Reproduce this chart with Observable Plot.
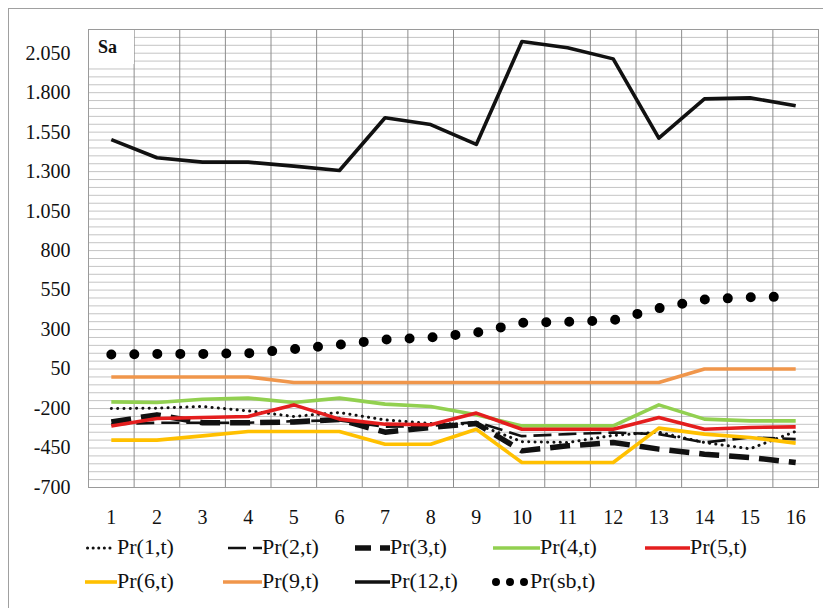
<!DOCTYPE html>
<html>
<head>
<meta charset="utf-8">
<script src="https://cdn.jsdelivr.net/npm/d3@7"></script>
<script src="https://cdn.jsdelivr.net/npm/@observablehq/plot@0.6"></script>
<style>
  html, body { margin: 0; padding: 0; background: #fff; overflow: hidden; }
  body { width: 823px; height: 608px; position: relative; font-family: "Liberation Serif", "Times New Roman", serif; }
  #border { position: absolute; left: 8px; top: 8px; width: 900px; height: 700px; border: 1px solid #a0a0a0; box-sizing: border-box; }
  #chart { position: absolute; left: 0; top: 0; }
  #label { position: absolute; left: 89px; top: 30px; width: 45px; height: 34px; background: #fff;
           font: bold 18px "Liberation Serif", serif; line-height: 34px; padding-left: 9px; box-sizing: border-box; color: #111; }
  .item { position: absolute; display: flex; align-items: center; font-size: 22px; color: #111; height: 26px; }
  .item svg { display: block; }
</style>
</head>
<body>
<div id="border"></div>
<div id="chart"></div>
<div id="label">Sa</div>
<div id="legend"></div>
<script>
// ---- data ----
const cats = [1, 2, 3, 4, 5, 6, 7, 8, 9, 10, 11, 12, 13, 14, 15, 16];
const yTicks = [-700, -450, -200, 50, 300, 550, 800, 1050, 1300, 1550, 1800, 2050];
const pr1  = [-200, -198, -187, -215, -250, -225, -272, -295, -300, -410, -415, -370, -350, -415, -455, -345];
const pr2  = [-300, -290, -290, -290, -280, -275, -315, -310, -285, -375, -362, -352, -362, -415, -383, -394];
const pr3  = [-285, -240, -290, -290, -285, -270, -350, -320, -295, -468, -436, -415, -457, -489, -510, -542];
const pr4  = [-158, -162, -141, -134, -162, -134, -172, -187, -240, -310, -310, -310, -177, -267, -278, -278];
const pr5  = [-310, -263, -257, -250, -177, -267, -299, -303, -229, -331, -331, -331, -257, -331, -320, -316];
const pr6  = [-400, -400, -373, -345, -345, -345, -426, -426, -331, -542, -542, -542, -324, -362, -383, -419];
const pr9  = [0, 0, 0, 0, -35, -35, -35, -35, -35, -35, -35, -35, -35, 50, 50, 50];
const pr12 = [1503, 1388, 1360, 1360, 1335, 1307, 1641, 1598, 1472, 2124, 2084, 2014, 1512, 1761, 1767, 1717];
const prsb = [142, 146, 146, 150, 176, 205, 237, 250, 280, 343, 349, 359, 435, 490, 505, 509];
const names = ["Pr(1,t)", "Pr(2,t)", "Pr(3,t)", "Pr(4,t)", "Pr(5,t)", "Pr(6,t)", "Pr(9,t)", "Pr(12,t)", "Pr(sb,t)"];

// ---- styles ----
const styles = [
  {stroke: "#111", width: 3, dash: "0.1 6.2", cap: "round", legendDash: "0.1 5.5"},
  {stroke: "#111", width: 2.6, dash: "18 7", cap: "butt", legendDash: "18 7"},
  {stroke: "#111", width: 5.5, dash: "20 10", cap: "butt", legendDash: "16 9"},
  {stroke: "#92D050", width: 3.6, dash: null, cap: "butt"},
  {stroke: "#E41E1E", width: 3.6, dash: null, cap: "butt"},
  {stroke: "#FFC000", width: 3.6, dash: null, cap: "butt"},
  {stroke: "#F0964B", width: 3.6, dash: null, cap: "butt"},
  {stroke: "#111", width: 3.6, dash: null, cap: "butt"},
  {stroke: "#000", width: 10, dash: "0 23", cap: "round", legendDash: "0 14", legendWidth: 8}
];
const seriesValues = [pr1, pr2, pr3, pr4, pr5, pr6, pr9, pr12, prsb];

const fmt = d => {
  const a = Math.abs(d);
  const s = a >= 1000 ? Math.floor(a / 1000) + "." + String(a % 1000).padStart(3, "0") : String(a);
  return (d < 0 ? "-" : "") + s;
};

const lineMarks = seriesValues.map((vals, k) => {
  const st = styles[k];
  const data = vals.map((v, i) => ({x: cats[i], y: v}));
  return Plot.line(data, {
    x: "x", y: "y", stroke: st.stroke, strokeWidth: st.width,
    strokeDasharray: st.dash, strokeLinecap: st.cap, strokeLinejoin: "round"
  });
});

const chart = Plot.plot({
  width: 823,
  height: 530,
  marginTop: 29,
  marginBottom: 43,
  marginLeft: 88,
  marginRight: 5,
  x: {domain: [0.5, 16.5]},
  y: {domain: [-700, 2200]},
  style: {fontFamily: "Liberation Serif, serif", fontSize: "20px", background: "transparent", color: "#111"},
  marks: [
    Plot.ruleY(d3.range(-700, 2201, 50), {stroke: "#c4c4c4", strokeWidth: 1}),
    Plot.ruleX(d3.range(0.5, 17, 1), {stroke: "#8c8c8c", strokeWidth: 1}),
    Plot.frame({stroke: "#9a9a9a"}),
    ...lineMarks,
    Plot.axisX(cats, {tickSize: 0, tickPadding: 22, fontSize: 20, label: null}),
    Plot.axisY(yTicks, {tickSize: 0, tickPadding: 18, tickFormat: fmt, fontSize: 20, label: null})
  ]
});
document.getElementById("chart").appendChild(chart);

// ---- legend ----
const legendPos = [
  {left: 85, top: 534, w: 32}, {left: 228, top: 534, w: 34}, {left: 355, top: 534, w: 35},
  {left: 493, top: 534, w: 47}, {left: 645, top: 534, w: 45},
  {left: 85, top: 568, w: 32}, {left: 223, top: 568, w: 39}, {left: 355, top: 568, w: 35},
  {left: 491, top: 568, w: 39}
];
const legend = document.getElementById("legend");
names.forEach((name, k) => {
  const st = styles[k];
  const p = legendPos[k];
  const lw = st.legendWidth || st.width;
  const div = document.createElement("div");
  div.className = "item";
  div.style.left = p.left + "px";
  div.style.top = p.top + "px";
  const x0 = st.cap === "round" ? lw / 2 + 1 : 0;
  const x1 = p.w - (st.cap === "round" ? lw / 2 : 0);
  const dash = st.legendDash ? `stroke-dasharray="${st.legendDash}"` : "";
  div.innerHTML = `<svg width="${p.w}" height="26"><line x1="${x0}" y1="14" x2="${x1}" y2="14" stroke="${st.stroke}" stroke-width="${lw}" ${dash} stroke-linecap="${st.cap}"/></svg><span>${name}</span>`;
  legend.appendChild(div);
});
</script>
</body>
</html>
